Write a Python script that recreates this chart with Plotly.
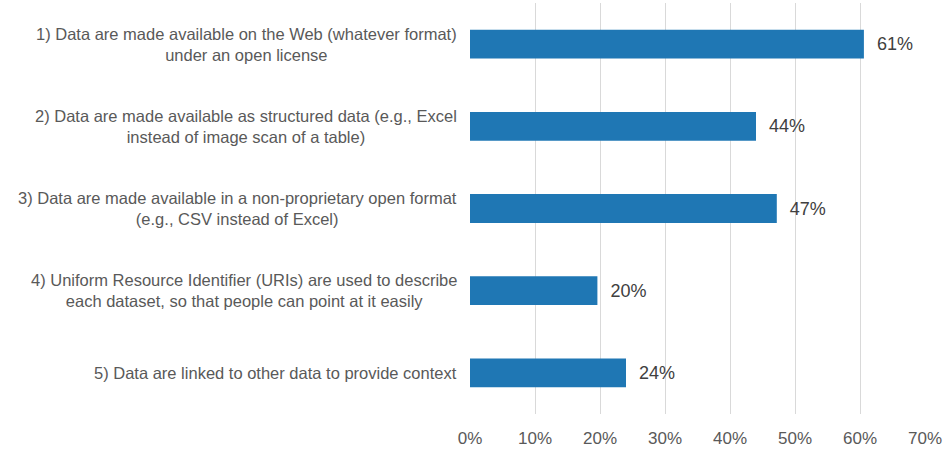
import plotly.graph_objects as go

# data
categories = [
    "1) Data are made available on the Web (whatever format)<br>under an open license",
    "2) Data are made available as structured data (e.g., Excel<br>instead of image scan of a table)",
    "3) Data are made available in a non-proprietary open format<br>(e.g., CSV instead of Excel)",
    "4) Uniform Resource Identifier (URIs) are used to describe<br>each dataset, so that people can point at it easily",
    "5) Data are linked to other data to provide context",
]
values = [60.6, 44.0, 47.2, 19.6, 24.0]
x_ticks = [0, 10, 20, 30, 40, 50, 60, 70]
x_tick_labels = ["0%", "10%", "20%", "30%", "40%", "50%", "60%", "70%"]

font = "Liberation Sans, Arial, sans-serif"

fig = go.Figure()
fig.add_trace(go.Bar(
    y=categories,
    x=values,
    orientation="h",
    marker=dict(color="#1F77B4", line=dict(width=0)),
    texttemplate="\u00a0\u00a0%{x:.0f}%",
    textposition="outside",
    textfont=dict(family=font, size=18, color="#404040"),
    cliponaxis=False,
    hoverinfo="skip",
))

# category labels as annotations so multi-line text can be centred
for cat in categories:
    fig.add_annotation(
        x=0, y=cat, xref="x", yref="y",
        text=cat, showarrow=False,
        xanchor="right", align="center",
        xshift=-11,
        font=dict(family=font, size=16.5, color="#595959"),
    )

fig.update_layout(
    width=947, height=452,
    margin=dict(l=470, r=22, t=3, b=38),
    plot_bgcolor="white",
    paper_bgcolor="white",
    bargap=0.65,
    showlegend=False,
    font=dict(family=font),
)
fig.update_xaxes(
    range=[0, 70],
    tickvals=x_ticks,
    ticktext=x_tick_labels,
    showgrid=True,
    gridcolor="#D9D9D9",
    gridwidth=1,
    zeroline=False,
    showline=False,
    ticks="outside",
    ticklen=9,
    tickcolor="rgba(0,0,0,0)",
    tickfont=dict(family=font, size=17, color="#595959"),
)
fig.update_yaxes(
    autorange="reversed",
    showticklabels=False,
    showgrid=False,
    zeroline=False,
    showline=False,
)

fig.write_html("out.html", config={"displayModeBar": False},
               post_script="document.body.style.margin='0';")
